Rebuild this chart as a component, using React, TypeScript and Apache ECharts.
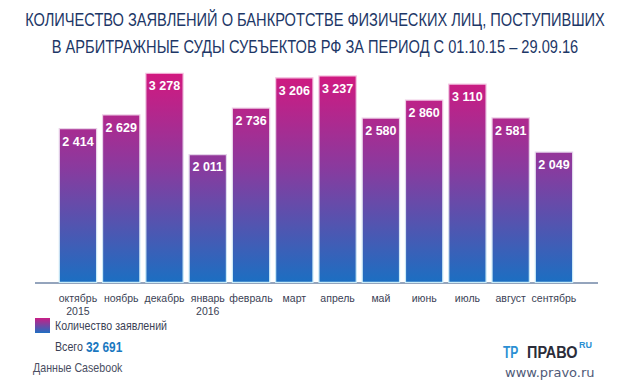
import React, { useEffect, useRef } from "react";
import * as echarts from "echarts";

const months = ["октябрь\n2015", "ноябрь", "декабрь", "январь\n2016", "февраль", "март", "апрель", "май", "июнь", "июль", "август", "сентябрь"];
const counts = [2414, 2629, 3278, 2011, 2736, 3206, 3237, 2580, 2860, 3110, 2581, 2049];
const titleLines = [
  "КОЛИЧЕСТВО ЗАЯВЛЕНИЙ О БАНКРОТСТВЕ ФИЗИЧЕСКИХ ЛИЦ, ПОСТУПИВШИХ",
  "В АРБИТРАЖНЫЕ СУДЫ СУБЪЕКТОВ РФ ЗА ПЕРИОД С 01.10.15 – 29.09.16",
];
const legendName = "Количество заявлений";
const totalLabel = "Всего ";
const totalValue = "32 691";
const sourceLabel = "Данные Casebook";

const SANS = '"Liberation Sans", Arial, sans-serif';

const fmt = (v: number) => String(v).replace(/\B(?=(\d{3})+(?!\d))/g, " ");

export default function App() {
  const ref = useRef<HTMLDivElement>(null);
  useEffect(() => {
    if (!ref.current) return;
    const chart = echarts.init(ref.current, null, { renderer: "svg" });
    const barGrad = new echarts.graphic.LinearGradient(0, 72, 0, 283, [
      { offset: 0, color: "#d3187f" },
      { offset: 0.45, color: "#8a3a9e" },
      { offset: 1, color: "#1b6fc2" },
    ], true);
    const borderGrad = new echarts.graphic.LinearGradient(0, 72, 0, 283, [
      { offset: 0, color: "#f6c6e2" },
      { offset: 1, color: "#c9ecf8" },
    ], true);
    const legendGrad = new echarts.graphic.LinearGradient(0, 0, 0, 1, [
      { offset: 0, color: "#c91e86" },
      { offset: 1, color: "#1f6fc2" },
    ]);
    chart.setOption({
      animation: false,
      backgroundColor: "#ffffff",
      grid: { left: 56.3, right: 630 - 575.6, top: 58.4, bottom: 106 },
      xAxis: {
        type: "category",
        data: months,
        axisLine: { show: false },
        axisTick: { show: false },
        axisLabel: {
          color: "#3b3f55",
          fontFamily: SANS,
          fontSize: 10.5,
          lineHeight: 13,
          margin: 8,
          interval: 0,
        },
      },
      yAxis: {
        type: "value",
        min: 0,
        max: 3500,
        show: false,
        splitLine: { show: false },
      },
      series: [
        {
          type: "bar",
          data: counts,
          barWidth: 38.5,
          itemStyle: { color: barGrad, borderColor: borderGrad, borderWidth: 1.2 },
          label: {
            show: true,
            position: "insideTop",
            distance: 7,
            color: "#ffffff",
            fontFamily: SANS,
            fontWeight: "bold",
            fontSize: 12.5,
            formatter: (p: any) => fmt(p.value),
          },
        },
      ],
      graphic: [
        {
          type: "text",
          x: 315,
          y: 20,
          scaleX: 0.77,
          style: {
            text: titleLines[0],
            fill: "#1d3767",
            font: `19px ${SANS}`,
            align: "center",
            verticalAlign: "middle",
          },
        },
        {
          type: "text",
          x: 315,
          y: 47,
          scaleX: 0.77,
          style: {
            text: titleLines[1],
            fill: "#1d3767",
            font: `19px ${SANS}`,
            align: "center",
            verticalAlign: "middle",
          },
        },
        {
          type: "line",
          shape: { x1: 35, y1: 283, x2: 598, y2: 283 },
          style: { stroke: "#2a4a7a", lineWidth: 1 },
        },
        {
          type: "rect",
          shape: { x: 35, y: 318, width: 15, height: 15 },
          style: { fill: legendGrad },
        },
        {
          type: "text",
          x: 55,
          y: 326,
          scaleX: 0.82,
          style: { text: legendName, fill: "#3b3f55", font: `13px ${SANS}`, verticalAlign: "middle" },
        },
        {
          type: "text",
          x: 55,
          y: 347,
          scaleX: 0.82,
          style: {
            text: `{a|${totalLabel}}{b|${totalValue}}`,
            verticalAlign: "middle",
            rich: {
              a: { fill: "#3b3f55", font: `13px ${SANS}` },
              b: { fill: "#1a78c0", font: `bold 14.5px ${SANS}` },
            },
          },
        },
        {
          type: "text",
          x: 33,
          y: 368,
          scaleX: 0.82,
          style: { text: sourceLabel, fill: "#4a4e62", font: `13px ${SANS}`, verticalAlign: "middle" },
        },
        {
          type: "text",
          x: 503,
          y: 352,
          scaleX: 0.75,
          style: { text: "ТР", fill: "#2c8fd3", font: `bold 16px ${SANS}`, verticalAlign: "middle" },
        },
        {
          type: "text",
          x: 527,
          y: 352,
          scaleX: 0.85,
          style: { text: "ПРАВО", fill: "#2b2d3a", font: `bold 17px ${SANS}`, verticalAlign: "middle" },
        },
        {
          type: "text",
          x: 579,
          y: 345,
          style: { text: "RU", fill: "#2c8fd3", font: `bold 9px ${SANS}`, verticalAlign: "middle" },
        },
        {
          type: "text",
          x: 505,
          y: 372,
          style: { text: "www.pravo.ru", fill: "#4f5a78", font: `13px "DejaVu Sans", sans-serif`, verticalAlign: "middle" },
        },
      ],
    });
    return () => chart.dispose();
  }, []);
  return <div ref={ref} style={{ width: 630, height: 389, position: "absolute", left: 0, top: 0 }} />;
}
